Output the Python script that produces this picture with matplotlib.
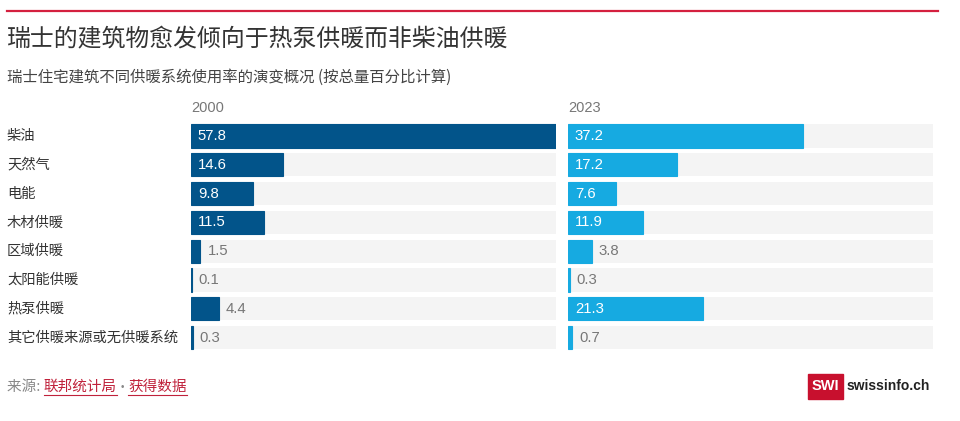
import matplotlib
matplotlib.use("Agg")
import matplotlib.pyplot as plt
from matplotlib.patches import Rectangle

plt.rcParams['font.family'] = ['Noto Sans CJK SC', 'DejaVu Sans']

# 数据
categories = ["柴油", "天然气", "电能", "木材供暖", "区域供暖", "太阳能供暖", "热泵供暖", "其它供暖来源或无供暖系统"]
values_2000 = [57.8, 14.6, 9.8, 11.5, 1.5, 0.1, 4.4, 0.3]
values_2023 = [37.2, 17.2, 7.6, 11.9, 3.8, 0.3, 21.3, 0.7]
years = ["2000", "2023"]

W, H = 960, 421
fig = plt.figure(figsize=(W / 100, H / 100), dpi=100)
fig.patch.set_facecolor("white")

def fx(px):
    return px / W

def fy(py):
    return 1 - py / H

num_font = ["Liberation Sans", "DejaVu Sans"]

# 顶部红线
fig.add_artist(plt.Line2D([fx(7), fx(938)], [fy(11), fy(11)], color="#d4203f", lw=1.6))

fig.text(fx(7), fy(40), "瑞士的建筑物愈发倾向于热泵供暖而非柴油供暖", fontsize=17.2,
         color="#333333", va="center", ha="left")
fig.text(fx(7), fy(77), "瑞士住宅建筑不同供暖系统使用率的演变概况 (按总量百分比计算)", fontsize=11.1,
         color="#444444", va="center", ha="left")

xmax = 57.8
row_top, row_bottom = 121.6, 352.0
panels = [(191, values_2000, "#02548a"), (568, values_2023, "#16aae1")]
width_px = 365

for (left, vals, col), yr in zip(panels, years):
    ax = fig.add_axes([fx(left), fy(row_bottom), fx(width_px), (row_bottom - row_top) / H])
    ax.set_xlim(0, xmax)
    ax.set_ylim(len(categories) - 0.5, -0.5)
    ax.axis("off")
    ypos = range(len(categories))
    ax.barh(ypos, [xmax] * len(categories), height=0.8, color="#f4f4f4", zorder=1)
    ax.barh(ypos, vals, height=0.8, color=col, edgecolor=col, linewidth=0.8, zorder=2)
    for y, v in zip(ypos, vals):
        if v >= 6:
            ax.annotate(f"{v}", (0, y), xytext=(5, 0), textcoords="offset points",
                        ha="left", va="center", color="white", fontsize=10.7,
                        family=num_font, zorder=3)
        else:
            ax.annotate(f"{v}", (v, y), xytext=(5, 0), textcoords="offset points",
                        ha="left", va="center", color="#777777", fontsize=10.7,
                        family=num_font, zorder=3)
    fig.text(fx(left), fy(108), yr, fontsize=10.5, color="#777777", va="center", ha="left",
             family=num_font)

for i, c in enumerate(categories):
    y = 136 + i * 28.8
    fig.text(fx(7), fy(y), c, fontsize=10.3, color="#333333", va="center", ha="left")

# 页脚
fs = 10.5
t1 = fig.text(fx(7), fy(387), "来源: ", fontsize=fs, color="#888888", va="center", ha="left")
fig.canvas.draw()
r = fig.canvas.get_renderer()
bb = t1.get_window_extent(r)
t2 = fig.text(bb.x1 / W, fy(387), "联邦统计局", fontsize=fs, color="#c0223b", va="center", ha="left")
bb2 = t2.get_window_extent(r)
fig.add_artist(plt.Line2D([bb.x1 / W, bb2.x1 / W], [fy(395), fy(395)], color="#c0223b", lw=0.8))
t3 = fig.text(bb2.x1 / W + 4 / W, fy(387), "•", fontsize=7, color="#888888", va="center", ha="left",
              family=num_font)
bb3 = t3.get_window_extent(r)
t4 = fig.text(bb3.x1 / W + 4 / W, fy(387), "获得数据", fontsize=fs, color="#c0223b", va="center", ha="left")
bb4 = t4.get_window_extent(r)
fig.add_artist(plt.Line2D([bb4.x0 / W, bb4.x1 / W], [fy(395), fy(395)], color="#c0223b", lw=0.8))

# SWI 标志
fig.add_artist(Rectangle((fx(808), fy(399)), fx(35), 25 / H, color="#c8102e", transform=fig.transFigure))
fig.text(fx(825.5), fy(386.5), "SWI", fontsize=10.5, color="white", weight="bold",
         va="center", ha="center", family=num_font)
fig.text(fx(847), fy(386.5), "swissinfo.ch", fontsize=10, color="#222222", weight="bold",
         va="center", ha="left", family=num_font)

fig.savefig("out.png", dpi=100)
